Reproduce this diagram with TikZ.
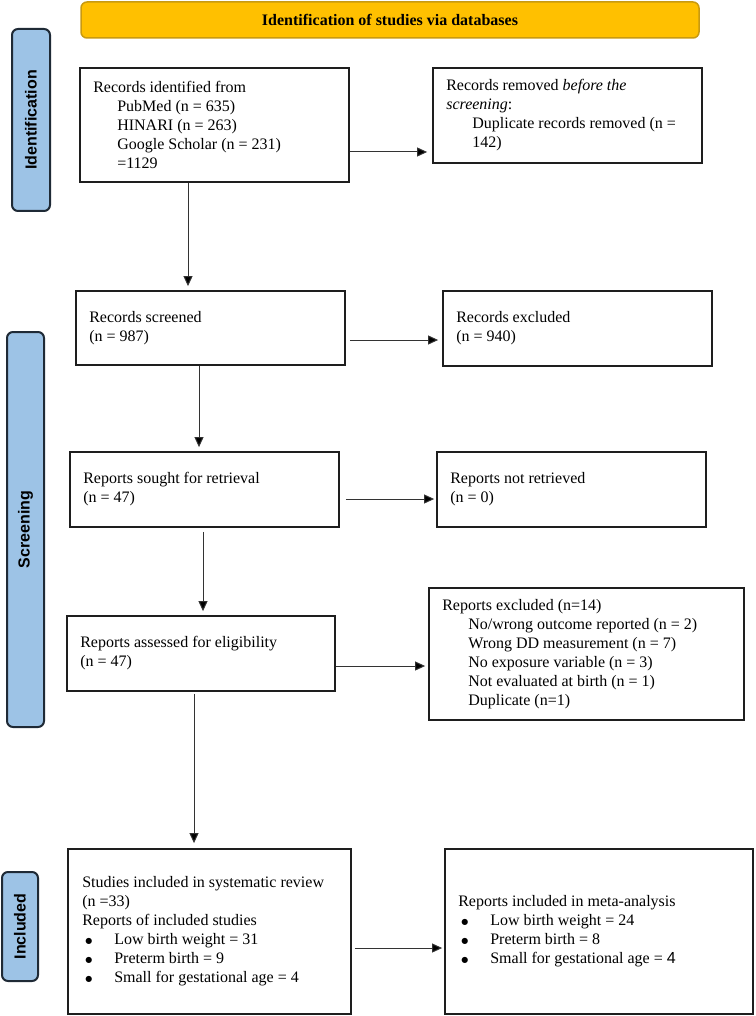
\documentclass[tikz,border=0pt]{standalone}
\usepackage{fontspec}
\setmainfont{Liberation Serif}
\setsansfont{Liberation Sans}
\newfontfamily\dejavu{DejaVu Sans}
\usetikzlibrary{arrows.meta}
\definecolor{hdrfill}{HTML}{FFC000}
\definecolor{hdrline}{HTML}{C99A10}
\definecolor{sidefill}{HTML}{9DC3E6}
\definecolor{sideline}{HTML}{1F2A36}
\definecolor{boxline}{HTML}{1E1E1E}
\begin{document}
\begin{tikzpicture}[x=1pt,y=-1pt,
  box/.style={draw=boxline, line width=1.8pt, fill=white, inner sep=0pt},
  side/.style={draw=sideline, line width=2pt, fill=sidefill, rounded corners=6pt,
     inner sep=0pt, font=\sffamily\bfseries\fontsize{16pt}{19pt}\selectfont},
  hdr/.style={draw=hdrline, line width=1.5pt, fill=hdrfill, rounded corners=6pt,
     inner sep=0pt, font=\bfseries\fontsize{16pt}{19pt}\selectfont},
  txt/.style={anchor=west, align=left, inner sep=0pt, font=\fontsize{16pt}{19pt}\selectfont},
  arr/.style={draw=black!80, line width=1pt, -{Triangle[length=10pt,width=9pt,fill=black]}}
]
\useasboundingbox (0,0) rectangle (755,1016);
\newcommand{\ind}{\hspace*{24pt}}
\newcommand{\bul}{\hspace*{3pt}\makebox[29pt][l]{\raisebox{1.8pt}{\dejavu\fontsize{8pt}{10pt}\selectfont ●}}}

% header
\node[hdr, minimum width=618pt, minimum height=36pt] (hd) at (390,20) {Identification of studies via databases};

% side bars
\node[side, rotate=90, minimum width=182pt, minimum height=38pt] (s1) at (31,120) {Identification};
\node[side, rotate=90, minimum width=395pt, minimum height=37pt] (s2) at (25.5,529.5) {Screening};
\node[side, rotate=90, minimum width=109pt, minimum height=36pt] (s3) at (20,926.5) {Included};

% boxes
\node[box, minimum width=269pt, minimum height=114pt] (b1) at (214.5,125) {};
\node[box, minimum width=269pt, minimum height=95pt]  (b2) at (567.5,115.5) {};
\node[box, minimum width=269pt, minimum height=74pt]  (b3) at (210.5,328) {};
\node[box, minimum width=269pt, minimum height=75pt]  (b4) at (577.5,328.5) {};
\node[box, minimum width=269pt, minimum height=75pt]  (b5) at (204.5,489.5) {};
\node[box, minimum width=269pt, minimum height=75pt]  (b6) at (571.5,489.5) {};
\node[box, minimum width=268pt, minimum height=75pt]  (b7) at (201,653.5) {};
\node[box, minimum width=315pt, minimum height=132pt] (b8) at (586.5,654) {};
\node[box, minimum width=283pt, minimum height=165pt] (b9) at (209.5,931.5) {};
\node[box, minimum width=308pt, minimum height=165pt] (b10) at (599,931.5) {};

% texts
\node[txt] (t1) at ([xshift=14pt]b1.west) {Records identified from\\ \ind PubMed (n = 635)\\ \ind HINARI (n = 263)\\ \ind Google Scholar (n = 231)\\ \ind =1129};
\node[txt] (t2) at ([xshift=14pt]b2.west) {Records removed \textit{before the}\\ \textit{screening}:\\ \hspace*{26pt}Duplicate records removed (n =\\ \hspace*{26pt}142)};
\node[txt] (t3) at ([xshift=14pt]b3.west) {Records screened\\ (n = 987)};
\node[txt] (t4) at ([xshift=14pt]b4.west) {Records excluded\\ (n = 940)};
\node[txt] (t5) at ([xshift=14pt]b5.west) {Reports sought for retrieval\\ (n = 47)};
\node[txt] (t6) at ([xshift=14pt]b6.west) {Reports not retrieved\\ (n = 0)};
\node[txt] (t7) at ([xshift=14pt]b7.west) {Reports assessed for eligibility\\ (n = 47)};
\node[txt] (t8) at ([xshift=14pt]b8.west) {Reports excluded (n=14)\\ \hspace*{26pt}No/wrong outcome reported (n = 2)\\ \hspace*{26pt}Wrong DD measurement (n = 7)\\ \hspace*{26pt}No exposure variable (n = 3)\\ \hspace*{26pt}Not evaluated at birth (n = 1)\\ \hspace*{26pt}Duplicate (n=1)};
\node[txt] (t9) at ([xshift=15pt]b9.west) {Studies included in systematic review\\ (n =33)\\ Reports of included studies\\ \bul Low birth weight = 31\\ \bul Preterm birth = 9\\ \bul Small for gestational age = 4};
\node[txt] (t10) at ([xshift=14pt]b10.west) {Reports included in meta-analysis\\ \bul Low birth weight = 24\\ \bul Preterm birth = 8\\ \bul Small for gestational age = {\sffamily 4}};

% connector levels
\coordinate (h1) at (0,152);
\coordinate (h2) at (0,340);
\coordinate (h3) at (0,499);
\coordinate (h4) at (0,666);
\coordinate (h5) at (0,948);
\coordinate (v1) at (188,0);
\coordinate (v2) at (199,0);
\coordinate (v3) at (203,0);
\coordinate (v4) at (194,0);

\draw[arr, shorten >=5pt] (b1.east |- h1) -- (b2.west |- h1);
\draw[arr, shorten <=4pt, shorten >=4pt] (b3.east |- h2) -- (b4.west |- h2);
\draw[arr, shorten <=6pt, shorten >=2pt] (b5.east |- h3) -- (b6.west |- h3);
\draw[arr, shorten >=3pt] (b7.east |- h4) -- (b8.west |- h4);
\draw[arr, shorten <=3pt, shorten >=2pt] (b9.east |- h5) -- (b10.west |- h5);

\draw[arr, shorten >=4pt] (b1.south -| v1) -- (b3.north -| v1);
\draw[arr, shorten >=4pt] (b3.south -| v2) -- (b5.north -| v2);
\draw[arr, shorten <=4pt, shorten >=4pt] (b5.south -| v3) -- (b7.north -| v3);
\draw[arr, shorten <=2pt, shorten >=5pt] (b7.south -| v4) -- (b9.north -| v4);
\end{tikzpicture}
\end{document}
